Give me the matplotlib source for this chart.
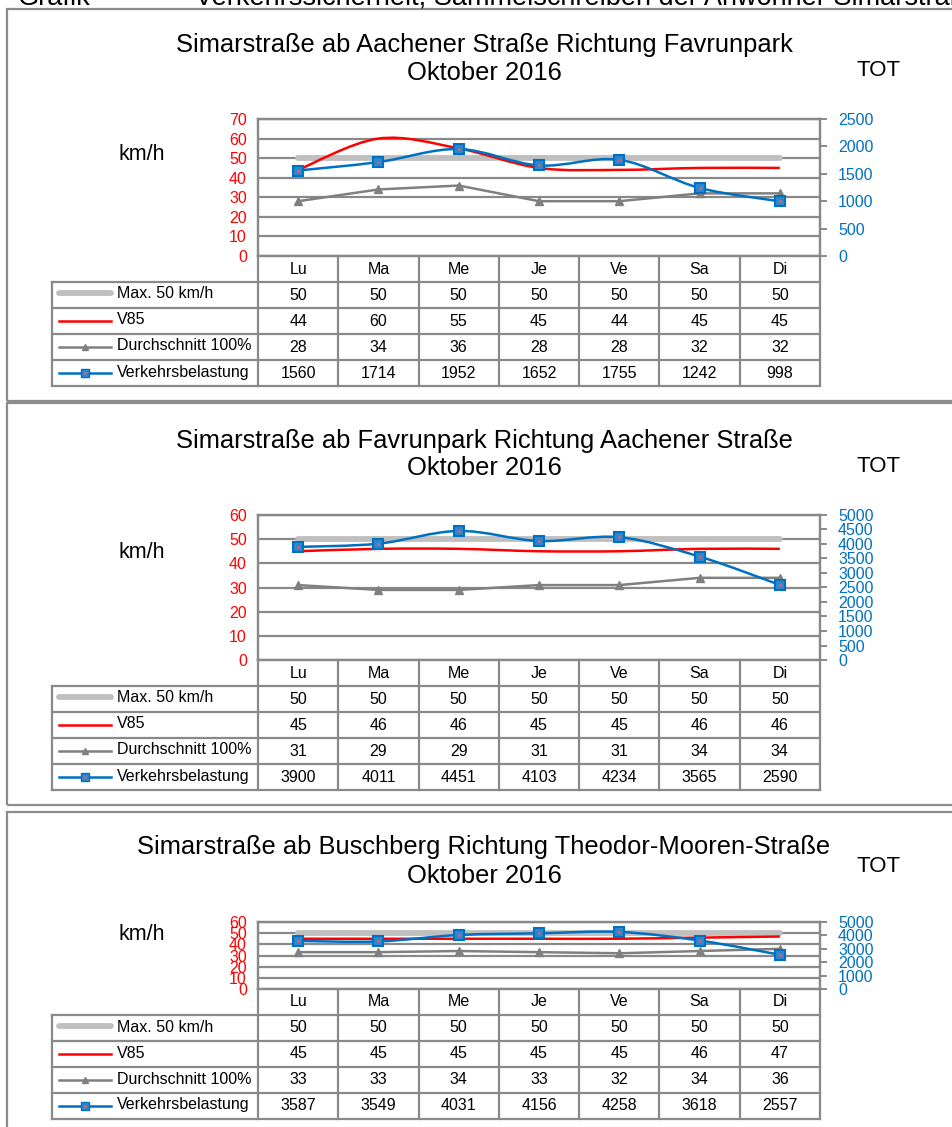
import numpy as np
import matplotlib
matplotlib.use("Agg")
from matplotlib import pyplot as plt
from matplotlib.patches import Rectangle, PathPatch
from matplotlib.path import Path

plt.rcParams['font.family'] = ['Liberation Sans', 'DejaVu Sans']

# data
days = ["Lu", "Ma", "Me", "Je", "Ve", "Sa", "Di"]
series_names = ["Max. 50 km/h", "V85", "Durchschnitt 100%", "Verkehrsbelastung"]
titles = ["Simarstraße ab Aachener Straße Richtung Favrunpark",
          "Simarstraße ab Favrunpark Richtung Aachener Straße",
          "Simarstraße ab Buschberg Richtung Theodor-Mooren-Straße"]
month = "Oktober 2016"

max50 = [50, 50, 50, 50, 50, 50, 50]

v85_1 = [44, 60, 55, 45, 44, 45, 45]
avg_1 = [28, 34, 36, 28, 28, 32, 32]
traffic_1 = [1560, 1714, 1952, 1652, 1755, 1242, 998]

v85_2 = [45, 46, 46, 45, 45, 46, 46]
avg_2 = [31, 29, 29, 31, 31, 34, 34]
traffic_2 = [3900, 4011, 4451, 4103, 4234, 3565, 2590]

v85_3 = [45, 45, 45, 45, 45, 46, 47]
avg_3 = [33, 33, 34, 33, 32, 34, 36]
traffic_3 = [3587, 3549, 4031, 4156, 4258, 3618, 2557]

speed_max = [70, 60, 60]
traffic_max = [2500, 5000, 5000]
traffic_step = [500, 500, 1000]

# colours
RED = "#FF0000"
BLUE = "#0070C0"
GREY = "#808080"
LIGHT = "#BFBFBF"
FRAME = "#8C8C8C"
GRID = "#898989"

W, H = 953, 1127
fig = plt.figure(figsize=(W / 100, H / 100), dpi=100)


def rect(x0, y0, w, h):
    return [x0 / W, 1 - (y0 + h) / H, w / W, h / H]


def fx(x):
    return x / W


def fy(y):
    return 1 - y / H


def smooth_path(xs, ys):
    # Catmull-Rom as cubic bezier, like Excel's smoothed line
    pts = np.column_stack([xs, ys]).astype(float)
    verts = [pts[0]]
    codes = [Path.MOVETO]
    n = len(pts)
    for i in range(n - 1):
        p0 = pts[i - 1] if i > 0 else pts[i]
        p1, p2 = pts[i], pts[i + 1]
        p3 = pts[i + 2] if i + 2 < n else pts[i + 1]
        c1 = p1 + (p2 - p0) / 6
        c2 = p2 - (p3 - p1) / 6
        verts += [c1, c2, p2]
        codes += [Path.CURVE4] * 3
    return Path(verts, codes)


# header text, cut off at the top of the page
fig.text(fx(18), fy(5), "Grafik", fontsize=19.5, va='baseline', ha='left')
fig.text(fx(195), fy(5), "Verkehrssicherheit, Sammelschreiben der Anwohner Simarstraße",
         fontsize=19.5, va='baseline', ha='left')

panels = [
    dict(top=9, bottom=401, t1=45, t2=73, tot=70, kmh=155, ptop=119, pbot=256),
    dict(top=403, bottom=805, t1=441, t2=468, tot=466, kmh=553, ptop=515, pbot=660),
    dict(top=812, bottom=1140, t1=847, t2=876, tot=865, kmh=935, ptop=922, pbot=989),
]
speeds = [(v85_1, avg_1, traffic_1), (v85_2, avg_2, traffic_2), (v85_3, avg_3, traffic_3)]

X0, X1, XL = 258, 820, 52
ROW = 26
FS = 11.5
x = np.arange(len(days))

for k, p in enumerate(panels):
    v85, avg, traffic = speeds[k]

    fig.add_artist(Rectangle((fx(7), fy(p['bottom'])), fx(1000 - 7),
                             fy(p['top']) - fy(p['bottom']), transform=fig.transFigure,
                             fill=False, edgecolor=FRAME, lw=1.6))

    fig.text(fx(484), fy(p['t1']), titles[k], fontsize=18.4, ha='center', va='center')
    fig.text(fx(484), fy(p['t2']), month, fontsize=18.4, ha='center', va='center')
    fig.text(fx(879), fy(p['tot'] + 1), "TOT", fontsize=16, ha='center', va='center')
    fig.text(fx(142), fy(p['kmh']), "km/h", fontsize=15.5, ha='center', va='center')

    ax = fig.add_axes(rect(X0, p['ptop'], X1 - X0, p['pbot'] - p['ptop']))
    ax.set_xlim(-0.5, 6.5)
    ax.set_ylim(0, speed_max[k])
    ax.set_yticks(range(0, speed_max[k] + 1, 10))
    ax.set_xticks([])
    ax.tick_params(axis='y', length=0, pad=8, labelsize=FS, labelcolor=RED)
    ax.grid(axis='y', color=GRID, lw=1.6)
    for s in ax.spines.values():
        s.set_color(GRID)
        s.set_linewidth(1.6)

    ax.plot(x, max50, color=LIGHT, lw=4.2, solid_capstyle='round', zorder=2)
    ax.add_patch(PathPatch(smooth_path(x, v85), fill=False, edgecolor=RED, lw=1.8, zorder=3))
    ax.plot(x, avg, color=GREY, lw=1.8, marker='^', ms=6, zorder=3)

    ax2 = ax.twinx()
    ax2.set_ylim(0, traffic_max[k])
    ax2.set_yticks(range(0, traffic_max[k] + 1, traffic_step[k]))
    ax2.tick_params(axis='y', length=5, width=1.4, color=GRID, pad=8,
                    labelsize=FS, labelcolor=BLUE)
    for s in ax2.spines.values():
        s.set_color(GRID)
        s.set_linewidth(1.6)
    ax2.add_patch(PathPatch(smooth_path(x, traffic), fill=False, edgecolor=BLUE, lw=1.8, zorder=3))
    ax2.plot(x, traffic, ls='none', marker='s', ms=6.5, mfc='#2F86CF', mec=BLUE, mew=1.5, zorder=4)
    ax2.plot(x, traffic, ls='none', marker='.', ms=2, color='#E06060', zorder=5)

    # data table below the chart
    top = p['pbot']
    bot = top + 5 * ROW
    tab = fig.add_axes(rect(XL, top, X1 - XL, bot - top))
    tab.set_xlim(XL, X1)
    tab.set_ylim(bot, top)
    tab.axis('off')
    colw = (X1 - X0) / len(days)
    cols = X0 + colw * np.arange(len(days) + 1)
    for cx in cols:
        tab.plot([cx, cx], [top, bot], color=GRID, lw=1.6, clip_on=False)
    tab.plot([XL, XL], [top + ROW, bot], color=GRID, lw=1.6, clip_on=False)
    for r in range(1, 6):
        tab.plot([XL, X1], [top + r * ROW, top + r * ROW], color=GRID, lw=1.6, clip_on=False)
    for i, d in enumerate(days):
        tab.text(cols[i] + colw / 2, top + ROW / 2, d, fontsize=FS, ha='center', va='center')

    rows = [max50, v85, avg, traffic]
    for r, (name, vals) in enumerate(zip(series_names, rows)):
        yc = top + (r + 1.5) * ROW
        if r == 0:
            tab.plot([59, 111], [yc - 2, yc - 2], color=LIGHT, lw=4.2, solid_capstyle='round')
        elif r == 1:
            tab.plot([59, 111], [yc, yc], color=RED, lw=1.8)
        elif r == 2:
            tab.plot([59, 111], [yc, yc], color=GREY, lw=1.8)
            tab.plot([85], [yc], marker='^', ms=5, color=GREY)
        else:
            tab.plot([59, 111], [yc, yc], color=BLUE, lw=1.8)
            tab.plot([85], [yc], marker='s', ms=5.5, mfc='#2F86CF', mec=BLUE)
            tab.plot([85], [yc], marker='.', ms=2, color='#E06060')
        tab.text(117, yc - 1, name, fontsize=FS, ha='left', va='center')
        for i, v in enumerate(vals):
            tab.text(cols[i] + colw / 2, yc, str(v), fontsize=FS, ha='center', va='center')

fig.savefig("out.png", dpi=100)
